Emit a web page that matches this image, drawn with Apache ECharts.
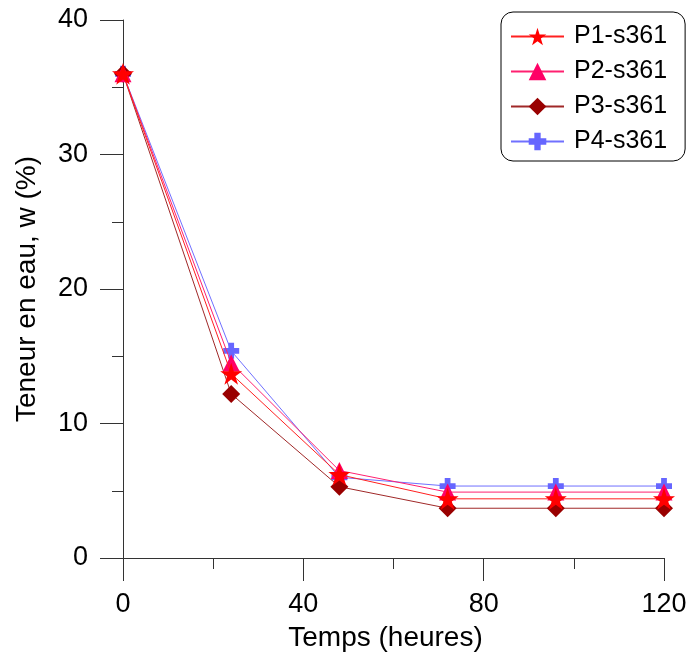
<!DOCTYPE html>
<html>
<head>
<meta charset="utf-8">
<script src="https://cdn.jsdelivr.net/npm/echarts@6/dist/echarts.min.js"></script>
<style>
html,body{margin:0;padding:0;background:#fff;}
#chart{width:688px;height:655px;}
</style>
</head>
<body>
<div id="chart"></div>
<script>
var hours = [0, 24, 48, 72, 96, 120];
var seriesNames = ['P1-s361', 'P2-s361', 'P3-s361', 'P4-s361'];
var p1 = [36, 13.7, 6.2, 4.4, 4.4, 4.4];
var p2 = [36, 14.5, 6.5, 4.9, 4.9, 4.9];
var p3 = [36, 12.2, 5.3, 3.7, 3.7, 3.7];
var p4 = [36, 15.4, 6.0, 5.35, 5.35, 5.35];
var xTicks = [0, 40, 80, 120];
var yTicks = [0, 10, 20, 30, 40];
var xTitle = 'Temps (heures)';
var yTitle = 'Teneur en eau, w (%)';

function pairs(xs, ys) { return xs.map(function (x, i) { return [x, ys[i]]; }); }

var STAR = 'path://M50 0 L61.23 34.55 L97.55 34.55 L68.17 55.9 L79.39 90.45 L50 69.1 L20.61 90.45 L31.83 55.9 L2.45 34.55 L38.77 34.55 Z';
var PLUS = 'path://M32 0 H68 V32 H100 V68 H68 V100 H32 V68 H0 V32 H32 Z';
var FONT = '"Liberation Sans", Arial, sans-serif';
var AX = '#333';

var chart = echarts.init(document.getElementById('chart'), null, {renderer: 'canvas'});

function axisCommon(min, max, interval) {
  return {
    type: 'value', min: min, max: max, interval: interval,
    splitLine: {show: false},
    axisLine: {show: true, onZero: false, lineStyle: {color: AX, width: 1}},
    axisTick: {show: true, inside: false, length: 23, lineStyle: {color: AX, width: 1}},
    minorTick: {show: true, splitNumber: 2, length: 11, lineStyle: {color: AX, width: 1}},
    minorSplitLine: {show: false},
    axisLabel: {color: '#000', fontFamily: FONT, fontSize: 27},
    nameTextStyle: {color: '#000', fontFamily: FONT, fontSize: 28}
  };
}

var xAxis = axisCommon(xTicks[0], xTicks[xTicks.length - 1], xTicks[1] - xTicks[0]);
xAxis.name = xTitle; xAxis.nameLocation = 'middle'; xAxis.nameGap = 66;
xAxis.nameTextStyle.padding = [0, 16, 0, 0];
xAxis.axisLabel.margin = 33;
var yAxis = axisCommon(yTicks[0], yTicks[yTicks.length - 1], yTicks[1] - yTicks[0]);
yAxis.name = yTitle; yAxis.nameLocation = 'middle'; yAxis.nameGap = 82; yAxis.nameRotate = 90;
yAxis.axisLabel.margin = 35;

var styles = [
  {symbol: STAR, size: 22, color: '#FF0000', line: '#FF2020', z: 5},
  {symbol: 'triangle', size: 17, color: '#FF0066', line: '#FF2070', z: 4},
  {symbol: 'diamond', size: 18, color: '#990000', line: '#A02828', z: 3},
  {symbol: PLUS, size: 16, color: '#6666FF', line: '#7070FF', z: 2}
];
var values = [p1, p2, p3, p4];

var series = seriesNames.map(function (name, i) {
  var s = styles[i];
  return {
    name: name, type: 'line', data: pairs(hours, values[i]),
    symbol: s.symbol, symbolSize: s.size, showSymbol: true,
    itemStyle: {color: s.color, borderWidth: 0},
    lineStyle: {color: s.line, width: 1},
    z: s.z, animation: false
  };
});

chart.setOption({
  animation: false,
  backgroundColor: '#fff',
  grid: {left: 123, right: 24, top: 20, bottom: 97, containLabel: false, outerBoundsMode: 'none'},
  xAxis: xAxis,
  yAxis: yAxis,
  legend: {
    orient: 'vertical', left: 501, top: 12,
    data: seriesNames,
    itemWidth: 53, itemHeight: 22, itemGap: 10,
    padding: [12, 18, 7, 9],
    borderColor: '#000', borderWidth: 1, borderRadius: 12,
    backgroundColor: '#fff',
    textStyle: {color: '#000', fontFamily: FONT, fontSize: 25, lineHeight: 22, padding: [0, 0, 0, 5]}
  },
  series: series
});
</script>
</body>
</html>
